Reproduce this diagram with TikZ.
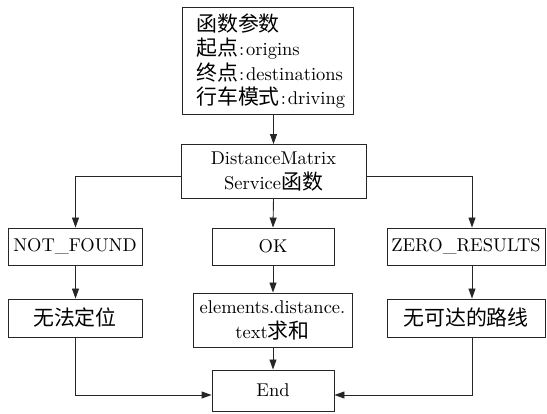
\documentclass[tikz,border=0pt]{standalone}
\usepackage{fontspec}
\setmainfont{lmroman10-regular.otf}
\newfontfamily\cjk[Scale=1.13]{Noto Sans CJK SC}
\usetikzlibrary{arrows.meta}
\begin{document}
\begin{tikzpicture}[x=1pt,y=-1pt,
  box/.style={draw=black!85, line width=0.9pt, inner sep=0pt, align=center,
    font=\fontsize{18.5}{25}\selectfont},
  arr/.style={draw=black!85, line width=0.9pt, -{Triangle[length=10pt,width=7pt]}},
  ln/.style={draw=black!85, line width=0.9pt}]
\useasboundingbox (0,0) rectangle (547,414);
\node[box, minimum width=171pt, minimum height=107pt] (params) at (267.5,60.5) {};
\node[anchor=west, inner sep=0pt, align=left, font=\fontsize{18.5}{24.5}\selectfont] (paramstext) at (196,61)
  {{\cjk 函数参数}\\{\cjk 起点}\kern1pt:\kern2pt origins\\{\cjk 终点}\kern1pt:\kern2pt destinations\\{\cjk 行车模式}\kern1pt:\kern2pt driving};
\node[box, minimum width=185pt, minimum height=54pt] (dm) at (273.5,171.5) {DistanceMatrix\\Service{\cjk 函数}};
\node[box, minimum width=134pt, minimum height=37pt] (nf) at (75,246.5) {NOT\_FOUND};
\node[box, minimum width=122pt, minimum height=37pt] (ok) at (273,246.5) {OK};
\node[box, minimum width=158pt, minimum height=37pt] (zr) at (466,246.5) {ZERO\_RESULTS};
\node[box, minimum width=134pt, minimum height=38pt] (wf) at (75,318) {\cjk 无法定位};
\node[box, minimum width=159pt, minimum height=54pt] (el) at (272.5,320) {elements.distance.\\text{\cjk 求和}};
\node[box, minimum width=158pt, minimum height=38pt] (wk) at (466,318) {\cjk 无可达的路线};
\node[box, minimum width=122pt, minimum height=41pt] (end) at (273,390.5) {End};
\coordinate (bl) at (75.5,176);
\coordinate (br) at (472,176);
\coordinate (ey) at (273,395);
\draw[arr] (params.south -| dm.north) -- (dm.north);
\draw[arr] (dm.west |- bl) -- (bl) -- (bl |- nf.north);
\draw[arr] (dm.east |- br) -- (br) -- (br |- zr.north);
\draw[arr] (dm.south) -- (ok.north);
\draw[arr] (bl |- nf.south) -- (bl |- wf.north);
\draw[arr] (ok.south) -- (ok.south |- el.north);
\draw[arr] (br |- zr.south) -- (br |- wk.north);
\draw[arr] (el.south -| end.north) -- (end.north);
\draw[arr] (bl |- wf.south) |- (end.west |- ey);
\draw[arr] (br |- wk.south) |- (end.east |- ey);
\end{tikzpicture}
\end{document}
